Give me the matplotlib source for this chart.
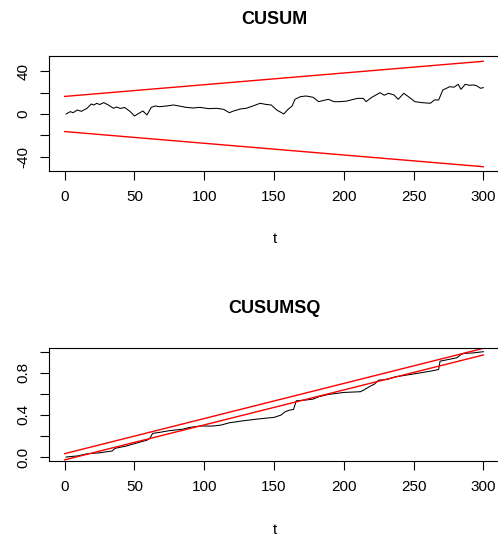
import numpy as np
import matplotlib
matplotlib.use("Agg")
from matplotlib import pyplot as plt

plt.rcParams['font.family'] = ['Liberation Sans', 'DejaVu Sans']

# CUSUM path (t, value)
cusum_t = [1, 4, 6, 9, 12, 16, 19, 21, 23, 25, 28, 31, 35, 37, 40, 43, 47, 50, 53, 56,
           59, 62, 65, 68, 73, 78, 83, 87, 92, 97, 103, 109, 114, 118, 121, 126, 130, 135,
           140, 144, 148, 152, 155, 157, 160, 163, 165, 169, 173, 178, 182, 185, 189, 193,
           197, 202, 207, 210, 214, 216, 219, 221, 226, 229, 232, 236, 239, 243, 246, 251,
           256, 262, 265, 268, 271, 276, 279, 282, 284, 287, 290, 293, 295, 298, 300]
cusum = [0, 2.2, 1.2, 3.7, 2.5, 5.3, 9.3, 8.4, 10, 8.8, 10.6, 8.6, 5.3, 6.5, 5.2, 6.1,
         2.2, -1.9, 0.5, 2.8, -0.9, 6.2, 7.5, 6.8, 7.5, 8.4, 7.2, 6.2, 5.6, 6.2, 5.0,
         5.3, 4.3, 1.2, 2.8, 4.7, 5.3, 7.5, 10, 9.0, 8.4, 3.7, 1.5, 0, 4.2, 7.5, 13.7,
         16.2, 16.8, 15.6, 11.5, 12.5, 13.7, 11.5, 11.5, 12.0, 13.7, 14.6, 14.6, 11.5,
         14.6, 16.2, 19.9, 17.5, 19.3, 17.8, 13.7, 19.3, 16.5, 11.5, 10.6, 10, 13.1, 13.1,
         22.4, 25.5, 25.0, 27.7, 23, 27.7, 26.8, 27.1, 26.5, 24, 24.6]

# CUSUMSQ path (t, value)
cusumsq_t = [1, 9, 16, 25, 34, 36, 44, 49, 55, 59, 61, 63, 68, 75, 85, 89, 97, 106,
             112, 118, 128, 138, 145, 150, 155, 158, 161, 164, 166, 172, 178, 182, 189,
             200, 212, 215, 219, 222, 225, 231, 237, 243, 252, 262, 268, 269, 275, 281,
             284, 286, 293, 300]
cusumsq = [0, 0.01, 0.03, 0.04, 0.057, 0.082, 0.104, 0.123, 0.145, 0.16, 0.177, 0.224,
           0.234, 0.25, 0.265, 0.28, 0.294, 0.294, 0.303, 0.325, 0.344, 0.36, 0.37, 0.376,
           0.398, 0.43, 0.445, 0.452, 0.534, 0.54, 0.55, 0.572, 0.594, 0.613, 0.62, 0.641,
           0.673, 0.692, 0.73, 0.736, 0.761, 0.774, 0.793, 0.815, 0.831, 0.91, 0.926,
           0.942, 0.973, 0.983, 0.989, 1.0]

# boundary end points (t = 0 and t = 300)
bound_t = [0, 300]
cusum_upper = [16.4, 49.2]
cusum_lower = [-16.4, -49.2]
sq_upper = [0.032, 1.032]
sq_lower = [-0.027, 0.969]

xticks = [0, 50, 100, 150, 200, 250, 300]

W, H = 498, 540
fig = plt.figure(figsize=(W / 100, H / 100), dpi=100)


def style_axes(ax, yticks, ylabels):
    ax.set_xlim(-10.96, 311.96)
    ax.set_xticks(xticks)
    ax.set_xticklabels([str(x) for x in xticks])
    ax.set_yticks(yticks)
    ax.set_yticklabels(ylabels, rotation=90, va='center')
    ax.tick_params(direction='out', length=6.5, width=0.8, labelsize=11, pad=7)
    for s in ax.spines.values():
        s.set_linewidth(0.8)


ax1 = fig.add_axes([49.4 / W, (H - 171) / H, (500 - 49.4) / W, 115.3 / H])
ax1.plot(cusum_t, cusum, color='black', lw=0.75)
ax1.plot(bound_t, cusum_upper, color='red', lw=1.0)
ax1.plot(bound_t, cusum_lower, color='red', lw=1.0)
ax1.set_ylim(-53.2, 54.4)
style_axes(ax1, [-40, -20, 0, 20, 40], ['-40', '', '0', '', '40'])

ax2 = fig.add_axes([49.4 / W, (H - 461) / H, (500 - 49.4) / W, 113.3 / H])
ax2.plot(cusumsq_t, cusumsq, color='black', lw=0.75)
ax2.plot(bound_t, sq_upper, color='red', lw=1.0)
ax2.plot(bound_t, sq_lower, color='red', lw=1.0)
ax2.set_ylim(-0.038, 1.038)
style_axes(ax2, [0, 0.2, 0.4, 0.6, 0.8, 1.0], ['0.0', '', '0.4', '', '0.8', ''])

cx = (49.4 + 500) / 2 / W
fig.text(cx, 1 - 19 / H, 'CUSUM', ha='center', va='center', fontsize=13, fontweight='bold')
fig.text(cx, 1 - 239 / H, 't', ha='center', va='center', fontsize=11)
fig.text(cx, 1 - 308.5 / H, 'CUSUMSQ', ha='center', va='center', fontsize=13, fontweight='bold')
fig.text(cx, 1 - 530 / H, 't', ha='center', va='center', fontsize=11)

fig.savefig('out.png', dpi=100)
